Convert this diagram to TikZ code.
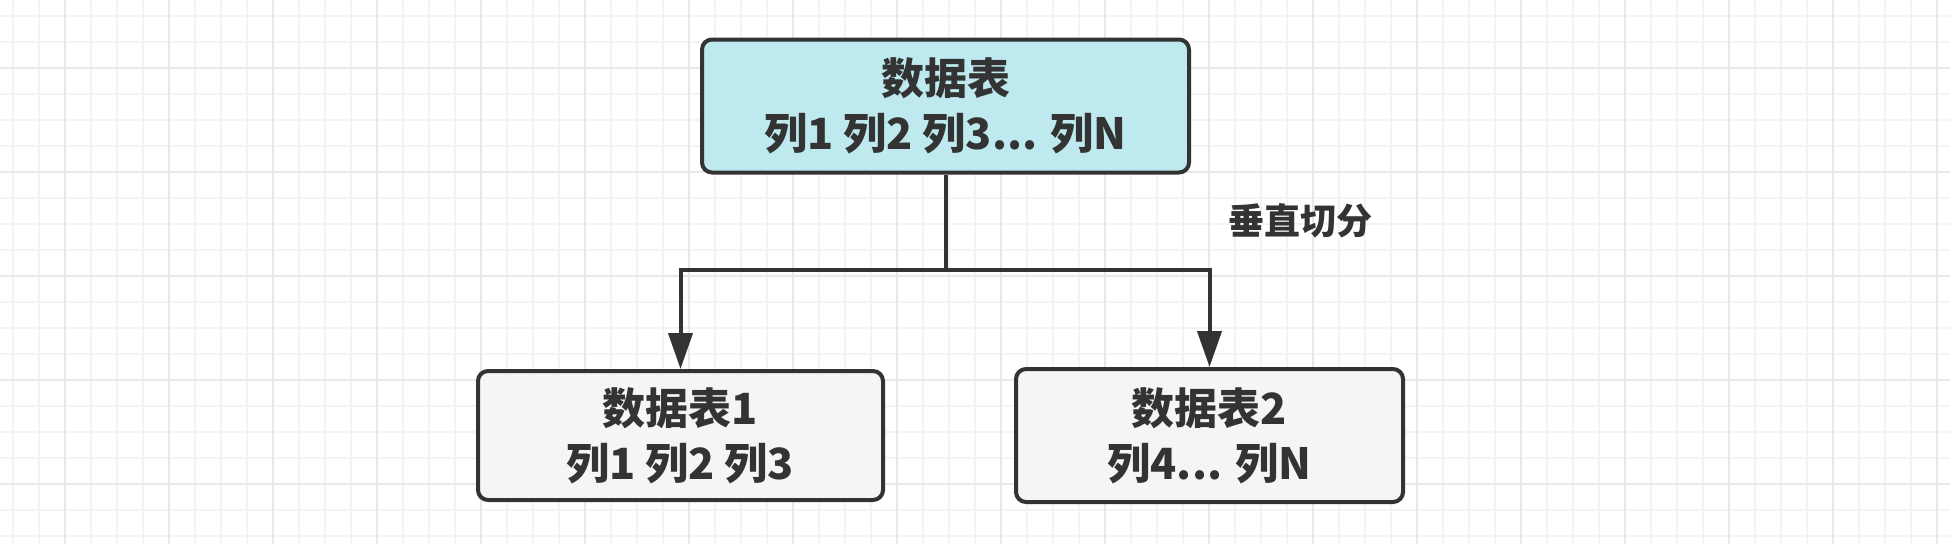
\documentclass[tikz,border=0pt]{standalone}
\usepackage{fontspec}
\setmainfont{Noto Sans CJK SC}
\usetikzlibrary{arrows.meta}
\definecolor{ink}{HTML}{333333}
\definecolor{topfill}{HTML}{BDE9EF}
\definecolor{boxfill}{HTML}{F5F5F5}
\definecolor{gridminor}{HTML}{F3F3F3}
\definecolor{gridmajor}{HTML}{E8E8E8}
\tikzset{
  box/.style={draw=ink, line width=4pt, rounded corners=10pt, text=ink, align=center,
    inner sep=0pt, font=\fontsize{43}{55}\selectfont\bfseries},
  conn/.style={draw=ink, line width=4pt},
  tip/.style={-{Triangle[length=36pt,width=24pt]}},
  lbl/.style={text=ink, font=\fontsize{36}{40}\selectfont\bfseries, inner sep=0pt}
}
\begin{document}
\begin{tikzpicture}[x=1pt,y=-1pt]
\useasboundingbox (0,0) rectangle (1950,544);
\fill[white] (0,0) rectangle (1950,544);
% grid
\foreach \i in {0,...,74} {\draw[gridminor, line width=2pt] ({13+26*\i},0) -- ({13+26*\i},544);}
\foreach \i in {0,...,20} {\draw[gridminor, line width=2pt] (0,{16+26*\i}) -- (1950,{16+26*\i});}
\foreach \i in {0,...,18} {\draw[gridmajor, line width=2pt] ({65+104*\i},0) -- ({65+104*\i},544);}
\foreach \i in {0,...,4} {\draw[gridmajor, line width=2pt] (0,{68+104*\i}) -- (1950,{68+104*\i});}
% nodes
\node[box, fill=topfill, minimum width=487pt, minimum height=133pt] (top) at (945.5,106) {数据表\\列1 列2 列3... 列N};
\node[box, fill=boxfill, minimum width=405pt, minimum height=129pt] (t1) at (680.5,435.5) {数据表1\\列1 列2 列3};
\node[box, fill=boxfill, minimum width=387pt, minimum height=133pt] (t2) at (1209.5,435.5) {数据表2\\列4... 列N};
\node[lbl] (cut) at (1300,221) {垂直切分};
% connectors
\coordinate (j) at (945.5,270);
\draw[conn, tip] (top.south) -- (j) -| (t1.north);
\draw[conn, tip] (j) -| (t2.north);
\end{tikzpicture}
\end{document}
